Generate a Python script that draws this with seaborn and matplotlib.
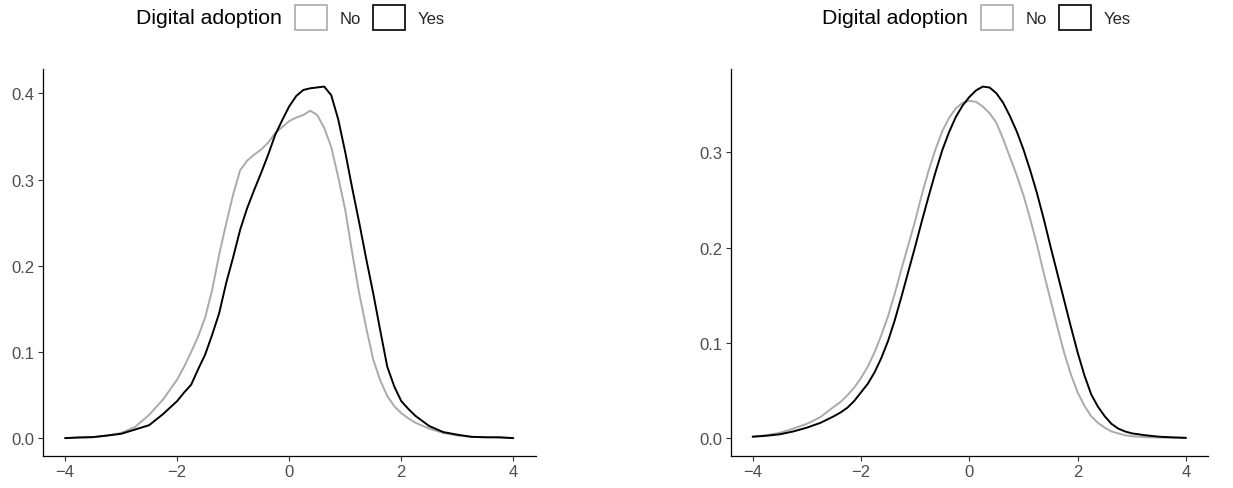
import numpy as np
import pandas as pd
import matplotlib
matplotlib.use("Agg")
import matplotlib.pyplot as plt
from matplotlib.patches import Patch
import seaborn as sns

# DATA (densities)

groups = ["No", "Yes"]
legend_title = "Digital adoption"

left_x = [-4.0, -3.75, -3.5, -3.25, -3.0, -2.75, -2.5, -2.25,
          -2.0, -1.875, -1.75, -1.625, -1.5, -1.375, -1.25, -1.125,
          -1.0, -0.875, -0.75, -0.625, -0.5, -0.375, -0.25, -0.125,
          0.0, 0.125, 0.25, 0.375, 0.5, 0.625, 0.75, 0.875,
          1.0, 1.125, 1.25, 1.375, 1.5, 1.625, 1.75, 1.875,
          2.0, 2.125, 2.25,
          2.5, 2.75, 3.0, 3.25, 3.5, 3.75, 4.0]
left_no = [0.000, 0.0005, 0.001, 0.003, 0.006, 0.013, 0.027, 0.045,
           0.068, 0.083, 0.100, 0.118, 0.140, 0.172, 0.213, 0.249,
           0.283, 0.311, 0.322, 0.329, 0.335, 0.343, 0.354, 0.361,
           0.368, 0.372, 0.375, 0.380, 0.375, 0.360, 0.338, 0.303,
           0.265, 0.215, 0.168, 0.128, 0.091, 0.067, 0.049, 0.037,
           0.029, 0.023, 0.018,
           0.011, 0.006, 0.003, 0.0015, 0.001, 0.0005, 0.000]
left_yes = [0.000, 0.0008, 0.0012, 0.003, 0.005, 0.010, 0.015, 0.028,
            0.043, 0.053, 0.062, 0.080, 0.097, 0.120, 0.145, 0.180,
            0.210, 0.242, 0.267, 0.288, 0.308, 0.329, 0.352, 0.369,
            0.385, 0.397, 0.404, 0.406, 0.407, 0.408, 0.398, 0.370,
            0.332, 0.290, 0.250, 0.208, 0.168, 0.125, 0.083, 0.060,
            0.043, 0.034, 0.026,
            0.014, 0.007, 0.004, 0.0015, 0.001, 0.001, 0.000]

right_x = [-4.0, -3.75, -3.5, -3.25, -3.0, -2.75, -2.5,
           -2.375, -2.25, -2.125, -2.0, -1.875, -1.75, -1.625, -1.5,
           -1.375, -1.25, -1.125, -1.0, -0.875, -0.75, -0.625, -0.5,
           -0.375, -0.25, -0.125, 0.0, 0.125, 0.25, 0.375, 0.5,
           0.625, 0.75, 0.875, 1.0, 1.125, 1.25, 1.375, 1.5,
           1.625, 1.75, 1.875, 2.0, 2.125, 2.25, 2.375, 2.5,
           2.625, 2.75, 2.875, 3.0,
           3.25, 3.5, 3.75, 4.0]
right_no = [0.0015, 0.003, 0.0055, 0.010, 0.015, 0.022, 0.033,
            0.038, 0.045, 0.053, 0.063, 0.075, 0.090, 0.108, 0.128,
            0.152, 0.178, 0.203, 0.228, 0.256, 0.281, 0.303, 0.322,
            0.336, 0.346, 0.352, 0.354, 0.353, 0.348, 0.341, 0.331,
            0.314, 0.295, 0.276, 0.255, 0.230, 0.203, 0.173, 0.145,
            0.117, 0.090, 0.067, 0.048, 0.034, 0.023, 0.016, 0.011,
            0.007, 0.005, 0.003, 0.002,
            0.001, 0.0007, 0.0004, 0.0002]
right_yes = [0.0015, 0.0025, 0.004, 0.007, 0.011, 0.016, 0.023,
             0.027, 0.032, 0.039, 0.048, 0.057, 0.069, 0.084, 0.102,
             0.124, 0.149, 0.175, 0.201, 0.228, 0.254, 0.279, 0.302,
             0.321, 0.337, 0.349, 0.358, 0.365, 0.369, 0.368, 0.362,
             0.352, 0.338, 0.322, 0.303, 0.281, 0.257, 0.230, 0.201,
             0.173, 0.145, 0.117, 0.090, 0.066, 0.046, 0.033, 0.023,
             0.015, 0.010, 0.007, 0.005,
             0.003, 0.0015, 0.0008, 0.0003]

x_ticks = [-4, -2, 0, 2, 4]
left_yticks = [0.0, 0.1, 0.2, 0.3, 0.4]
right_yticks = [0.0, 0.1, 0.2, 0.3]

palette = {"No": "#AAAAAA", "Yes": "#000000"}

# STYLE

sns.set_theme(style="ticks")
plt.rcParams['font.family'] = ['Liberation Sans', 'DejaVu Sans']

W, H = 1233, 489
fig = plt.figure(figsize=(W / 100, H / 100), dpi=100)
ax1 = fig.add_axes([42.7 / W, 1 - 456.7 / H, 493 / W, 386.7 / H])
ax2 = fig.add_axes([731 / W, 1 - 456.7 / H, 476.6 / W, 386.7 / H])


def long_frame(x, no, yes):
    return pd.DataFrame({
        "x": x + x,
        "density": no + yes,
        legend_title: ["No"] * len(x) + ["Yes"] * len(x),
    })


def draw_panel(ax, x, no, yes, yticks, box_left):
    df = long_frame(x, no, yes)
    sns.lineplot(data=df, x="x", y="density", hue=legend_title,
                 hue_order=groups, palette=palette, errorbar=None,
                 linewidth=1.4, legend=False, ax=ax)
    for line in ax.get_lines():
        line.set_solid_joinstyle("round")

    top = max(max(no), max(yes))
    ax.set_ylim(-0.05 * top, 1.05 * top)
    ax.set_xlim(-4.4, 4.4)
    ax.set_xticks(x_ticks)
    ax.set_yticks(yticks)
    ax.set_yticklabels([f"{t:.1f}" for t in yticks])
    ax.set_xlabel("")
    ax.set_ylabel("")

    sns.despine(ax=ax)
    for side in ["left", "bottom"]:
        ax.spines[side].set_linewidth(0.9)
        ax.spines[side].set_color("black")
    ax.tick_params(direction="out", length=3.5, width=0.8, color="#333333",
                   labelcolor="#4D4D4D", labelsize=12, pad=2.5)

    # legend on top: title to the left of the keys
    handles = [Patch(facecolor="white", edgecolor=palette[g], linewidth=1.2) for g in groups]
    ax.legend(handles, groups, ncol=2, loc="center left",
              bbox_to_anchor=(box_left / W, 1 - 18.5 / H),
              bbox_transform=fig.transFigure, frameon=False,
              handlelength=1.9, handleheight=1.85, handletextpad=0.78,
              columnspacing=0.72, borderpad=0, borderaxespad=0, fontsize=12)
    fig.text((box_left - 13) / W, 1 - 18.5 / H, legend_title,
             ha="right", va="center", fontsize=15.3, color="black")


draw_panel(ax1, left_x, left_no, left_yes, left_yticks, 295)
draw_panel(ax2, right_x, right_no, right_yes, right_yticks, 981)

fig.savefig("out.png", dpi=100, facecolor="white")
